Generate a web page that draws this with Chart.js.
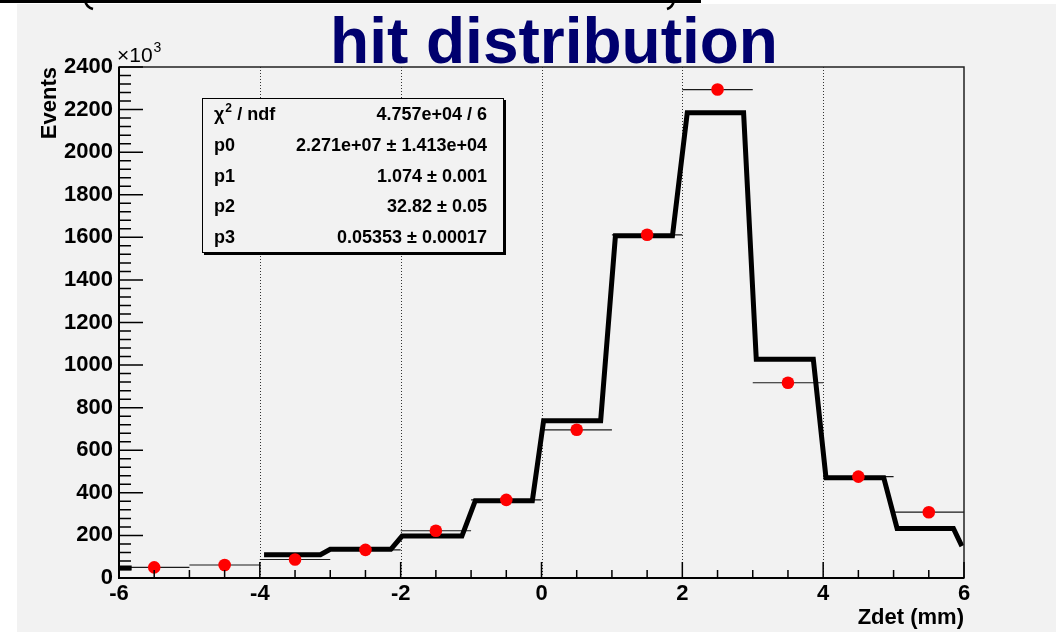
<!DOCTYPE html>
<html>
<head>
<meta charset="utf-8">
<title>hit distribution</title>
<script src="https://cdn.jsdelivr.net/npm/chart.js@4.4.1/dist/chart.umd.min.js"></script>
<style>
  body{margin:0;background:#fff;}
  canvas{display:block;}
</style>
</head>
<body>
<canvas id="chart" width="1056" height="638"></canvas>
<script>
'use strict';
// measured bins (Zdet in mm), counts in units of 10^3
var binCenters=[-5.5,-4.5,-3.5,-2.5,-1.5,-0.5,0.5,1.5,2.5,3.5,4.5,5.5];
var eventCounts=[50,61,87,132,222,367,696,1612,2294,917,476,309];
var binWidth=1;

// fitted function, sampled along the curve (null = gap)
var fitZ=[-6,-5.82,-5,-3.94,-3.14,-3.0,-2.14,-1.98,-1.13,-0.94,-0.13,0.03,0.84,1.05,1.86,2.07,2.87,3.05,3.86,4.04,4.86,5.05,5.85,5.97];
var fitEvents=[47,47,null,109,109,135,135,197,197,363,363,739,739,1607,1607,2185,2185,1027,1027,471,471,233,233,150];

var xTickValues=[-6,-4,-2,0,2,4,6];
var yTickValues=[0,200,400,600,800,1000,1200,1400,1600,1800,2000,2200,2400];

var statNames=['χ2 / ndf','p0','p1','p2','p3'];
var statValues=['4.757e+04 / 6','2.271e+07 ± 1.413e+04','1.074 ± 0.001','32.82 ± 0.05','0.05353 ± 0.00017'];

var FONT='"Liberation Sans", Arial, Helvetica, sans-serif';

var pointData=binCenters.map(function(c,i){return {x:c,y:eventCounts[i]};});
var errorData=[];
for(var i=0;i<binCenters.length;i++){
  errorData.push({x:binCenters[i]-binWidth/2,y:eventCounts[i]});
  errorData.push({x:binCenters[i]+binWidth/2,y:eventCounts[i]});
  errorData.push({x:binCenters[i]+binWidth/2,y:null});
}
var fitData=fitZ.map(function(z,i){return {x:z,y:fitEvents[i]};});

var rootStyle={
  id:'rootStyle',
  beforeDraw:function(chart){
    var ctx=chart.ctx;
    ctx.save();
    ctx.fillStyle='#fff';
    ctx.fillRect(0,0,chart.width,chart.height);
    ctx.fillStyle='#f2f2f2';
    ctx.fillRect(17,4,chart.width-17,628);
    // cut-off slide line at the very top
    ctx.strokeStyle='#000';
    ctx.lineWidth=3;
    ctx.beginPath();
    ctx.moveTo(0,1.5);ctx.lineTo(701,1.5);
    ctx.stroke();
    ctx.lineWidth=2.5;
    ctx.beginPath();
    ctx.moveTo(85,0);ctx.quadraticCurveTo(86,7,93,9);
    ctx.moveTo(674,0);ctx.quadraticCurveTo(673,7,667,9);
    ctx.stroke();
    ctx.restore();
  },
  beforeDatasetsDraw:function(chart){
    var ctx=chart.ctx,a=chart.chartArea,xs=chart.scales.x;
    ctx.save();
    ctx.strokeStyle='#333';
    ctx.lineWidth=1;
    ctx.setLineDash([1,2]);
    xTickValues.forEach(function(v){
      if(v===xs.min||v===xs.max)return;
      var px=Math.round(xs.getPixelForValue(v))+0.5;
      ctx.beginPath();ctx.moveTo(px,a.top);ctx.lineTo(px,a.bottom);ctx.stroke();
    });
    ctx.restore();
  },
  afterDatasetsDraw:function(chart){
    var ctx=chart.ctx,a=chart.chartArea,xs=chart.scales.x,ys=chart.scales.y;
    ctx.save();
    // frame
    ctx.strokeStyle='#222';
    ctx.lineWidth=1.5;
    ctx.strokeRect(a.left,a.top,a.right-a.left,a.bottom-a.top);
    ctx.strokeStyle='#000';
    ctx.lineWidth=2;
    ctx.beginPath();
    ctx.moveTo(a.left,a.top);ctx.lineTo(a.left,a.bottom);ctx.lineTo(a.right,a.bottom);
    ctx.stroke();
    // ticks inside the frame
    ctx.lineWidth=1.5;
    ctx.beginPath();
    for(var v=xs.min;v<=xs.max+1e-9;v+=0.5){
      var px=xs.getPixelForValue(v);
      var len=(Math.abs(v%2)<1e-9)?16:8;
      ctx.moveTo(px,a.bottom);ctx.lineTo(px,a.bottom-len);
    }
    for(var w=ys.min;w<=ys.max+1e-9;w+=40){
      var py=ys.getPixelForValue(w);
      var ln=(Math.abs(w%200)<1e-9)?24:12;
      ctx.moveTo(a.left,py);ctx.lineTo(a.left+ln,py);
    }
    ctx.stroke();
    // stats box
    var bx=202,by=98,bw=302,bh=155;
    ctx.fillStyle='#000';
    ctx.fillRect(bx+2,by+2,bw,bh);
    ctx.fillStyle='#f2f2f2';
    ctx.fillRect(bx,by,bw,bh);
    ctx.strokeStyle='#000';
    ctx.lineWidth=1;
    ctx.strokeRect(bx+0.5,by+0.5,bw-1,bh-1);
    ctx.fillStyle='#000';
    ctx.textBaseline='middle';
    for(var r=0;r<statNames.length;r++){
      var ty=by+17+r*30.8;
      ctx.font='bold 18px '+FONT;
      ctx.textAlign='left';
      if(r===0){
        ctx.fillText('χ',214,ty);
        var cw=ctx.measureText('χ').width;
        ctx.font='bold 12px '+FONT;
        ctx.fillText('2',214+cw+1,ty-6);
        ctx.font='bold 18px '+FONT;
        ctx.fillText('/ ndf',214+cw+13,ty);
      }else{
        ctx.fillText(statNames[r],214,ty);
      }
      ctx.textAlign='right';
      ctx.fillText(statValues[r],487,ty);
    }
    ctx.restore();
  },
  afterDraw:function(chart){
    var ctx=chart.ctx;
    ctx.save();
    ctx.fillStyle='#00006e';
    ctx.font='bold 64px '+FONT;
    ctx.textAlign='center';
    ctx.textBaseline='alphabetic';
    ctx.fillText('hit distribution',554,63);
    ctx.fillStyle='#000';
    ctx.textAlign='left';
    ctx.font='21px '+FONT;
    ctx.fillText('×10',117,62);
    var w=ctx.measureText('×10').width;
    ctx.font='14px '+FONT;
    ctx.fillText('3',117+w+1,52);
    ctx.restore();
  }
};

var ctx=document.getElementById('chart').getContext('2d');
var chart=new Chart(ctx,{
  type:'scatter',
  data:{
    datasets:[{
      label:'data',
      data:pointData,
      backgroundColor:'#ff0000',
      borderWidth:0,
      pointRadius:6.3,
      order:0
    },{
      type:'line',
      label:'fit',
      data:fitData,
      borderColor:'#000',
      borderWidth:5,
      borderJoinStyle:'miter',
      pointRadius:0,
      spanGaps:false,
      fill:false,
      order:1
    },{
      type:'line',
      label:'bin width',
      data:errorData,
      borderColor:'#1a1a1a',
      borderWidth:1.2,
      pointRadius:0,
      spanGaps:false,
      fill:false,
      order:2
    }]
  },
  options:{
    responsive:false,
    animation:false,
    devicePixelRatio:1,
    layout:{padding:{left:0,right:92,top:67,bottom:0}},
    plugins:{legend:{display:false},tooltip:{enabled:false},title:{display:false}},
    scales:{
      x:{
        type:'linear',
        min:-6,max:6,
        afterFit:function(s){s.height=60;},
        afterBuildTicks:function(s){s.ticks=xTickValues.map(function(v){return {value:v};});},
        grid:{display:false,drawTicks:false},
        border:{display:false},
        ticks:{autoSkip:false,maxRotation:0,padding:3,color:'#000',font:{family:FONT,size:22,weight:'bold'},
          callback:function(v){return String(v);}},
        title:{display:true,text:'Zdet (mm)',align:'end',color:'#000',padding:{top:0,bottom:7},font:{family:FONT,size:22,weight:'bold'}}
      },
      y:{
        type:'linear',
        min:0,max:2400,
        afterFit:function(s){s.width=119;},
        afterBuildTicks:function(s){s.ticks=yTickValues.map(function(v){return {value:v};});},
        grid:{display:false,drawTicks:false},
        border:{display:false},
        ticks:{autoSkip:false,padding:6,color:'#000',font:{family:FONT,size:22,weight:'bold'},
          callback:function(v){return String(v);}},
        title:{display:true,text:'Events',align:'end',color:'#000',padding:{top:37,bottom:0},font:{family:FONT,size:22,weight:'bold'}}
      }
    }
  },
  plugins:[rootStyle]
});
</script>
</body>
</html>
